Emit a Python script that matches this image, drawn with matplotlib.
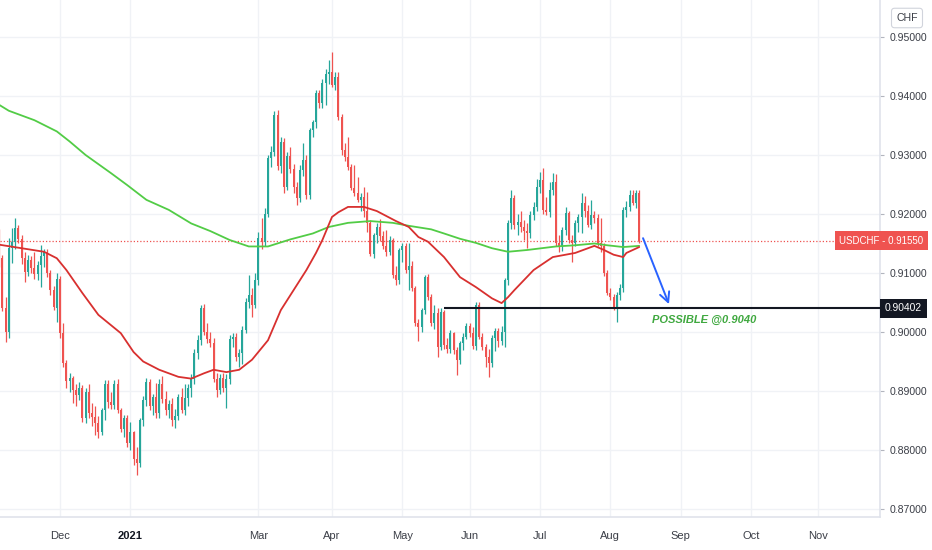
import numpy as np
import pandas as pd
import matplotlib
matplotlib.use("Agg")
import matplotlib.pyplot as plt
from matplotlib import font_manager
from matplotlib.transforms import blended_transform_factory
from matplotlib.ticker import FuncFormatter

# ---------------- data ----------------
symbol = "USDCHF"
currency = "CHF"
last_price = 0.91550
target_level = 0.90402
target_text = "POSSIBLE @0.9040"
target_start_date = "2021-05-20"
holidays = ["2020-12-25", "2021-01-01"]
first_day = "2020-11-04"
axis_end_day = "2021-11-30"

open_ = [
    # Nov 2020
    .9150, .9125, .9040, .9000, .9142, .9152, .9176, .9158, .9125, .9102, .9122, .9108, .9098, .9114, .9128, .9135, .9100, .9072, .9040,
    # Dec
    .9090, .8998, .8948, .8917, .8922, .8902, .8893, .8905, .8854, .8899, .8862, .8856, .8845, .8830, .8868, .8912, .8882, .8877, .8912, .8868, .8836, .8854,
    # Jan 2021
    .8812, .8830, .8785, .8778, .8851, .8885, .8915, .8875, .8890, .8862, .8912, .8886, .8868, .8878, .8851, .8858, .8890, .8868, .8888, .8905,
    # Feb
    .8920, .8965, .8986, .9040, .9000, .8988, .8982, .8920, .8902, .8922, .8905, .8920, .8988, .8992, .8958, .8965, .9003, .9050, .9063, .9045,
    # Mar
    .9088, .9160, .9152, .9200, .9295, .9305, .9368, .9282, .9322, .9246, .9298, .9277, .9246, .9227, .9275, .9292, .9232, .9342, .9356, .9405, .9388, .9422, .9438,
    # Apr
    .9440, .9419, .9433, .9365, .9308, .9297, .9280, .9244, .9235, .9224, .9229, .9205, .9185, .9133, .9164, .9178, .9162, .9145, .9136, .9156, .9097, .9088,
    # May
    .9139, .9145, .9105, .9112, .9074, .9015, .9009, .9037, .9094, .9060, .9015, .9032, .8975, .9034, .8978, .8972, .8998, .8969, .8953, .8981, .8992,
    # Jun
    .9010, .8998, .8976, .9046, .8992, .8975, .8958, .8947, .8990, .9001, .8984, .9000, .9088, .9184, .9227, .9181, .9187, .9178, .9172, .9168, .9198, .9212,
    # Jul
    .9246, .9258, .9207, .9204, .9240, .9255, .9150, .9145, .9173, .9201, .9156, .9150, .9184, .9195, .9218, .9205, .9181, .9198, .9193, .9150, .9145, .9100,
    # Aug
    .9066, .9060, .9042, .9062, .9075, .9207, .9212, .9232, .9218, .9235,
]
high = [
    .9175, .9130, .9060, .9160, .9176, .9193, .9182, .9165, .9135, .9130, .9128, .9135, .9120, .9147, .9140, .9140, .9105, .9078, .9100,
    .9095, .9015, .8952, .8930, .8925, .8912, .8915, .8910, .8905, .8912, .8880, .8875, .8858, .8872, .8919, .8918, .8898, .8918, .8920, .8872, .8860, .8860,
    .8848, .8832, .8805, .8855, .8892, .8922, .8920, .8895, .8913, .8920, .8925, .8900, .8885, .8888, .8870, .8895, .8905, .8912, .8912, .8928,
    .8972, .8995, .9045, .9048, .9015, .9000, .8990, .8930, .8928, .8930, .8928, .8995, .8998, .8998, .8972, .9010, .9058, .9097, .9075, .9100,
    .9170, .9193, .9210, .9300, .9315, .9375, .9376, .9330, .9328, .9305, .9314, .9285, .9255, .9283, .9320, .9300, .9345, .9360, .9410, .9410, .9428, .9445, .9461,
    .9475, .9440, .9440, .9370, .9320, .9331, .9285, .9283, .9263, .9235, .9246, .9238, .9190, .9168, .9185, .9192, .9172, .9173, .9162, .9160, .9112, .9142,
    .9150, .9151, .9150, .9120, .9078, .9022, .9040, .9096, .9098, .9065, .9045, .9040, .9040, .9038, .8990, .9003, .9000, .8975, .8985, .8998, .9015,
    .9015, .9009, .9051, .9050, .8998, .8980, .8972, .8995, .9006, .9006, .9010, .9091, .9190, .9241, .9232, .9200, .9205, .9190, .9185, .9205, .9220, .9260,
    .9272, .9278, .9228, .9255, .9269, .9268, .9165, .9178, .9212, .9205, .9165, .9190, .9200, .9235, .9230, .9215, .9224, .9205, .9200, .9193, .9150, .9105,
    .9075, .9065, .9068, .9082, .9212, .9222, .9241, .9241, .9240, .9240,
]
low = [
    .9110, .9035, .8983, .8990, .9117, .9140, .9150, .9115, .9085, .9095, .9100, .9090, .9088, .9077, .9110, .9094, .9063, .9038, .9017,
    .8990, .8940, .8905, .8898, .8880, .8875, .8885, .8848, .8845, .8855, .8840, .8825, .8820, .8825, .8850, .8872, .8870, .8870, .8862, .8830, .8822, .8805,
    .8800, .8775, .8758, .8772, .8840, .8875, .8868, .8860, .8855, .8855, .8880, .8860, .8855, .8840, .8838, .8850, .8862, .8860, .8875, .8890,
    .8912, .8955, .8978, .8995, .8982, .8975, .8915, .8890, .8895, .8898, .8871, .8912, .8975, .8950, .8940, .8945, .8998, .9040, .9026, .9040,
    .9080, .9140, .9145, .9195, .9280, .9298, .9275, .9270, .9235, .9240, .9270, .9235, .9215, .9220, .9265, .9225, .9225, .9330, .9345, .9380, .9380, .9385, .9420,
    .9415, .9410, .9360, .9300, .9290, .9275, .9240, .9230, .9220, .9205, .9195, .9170, .9128, .9125, .9150, .9155, .9140, .9128, .9130, .9092, .9080, .9082,
    .9118, .9100, .9071, .9070, .9010, .8984, .9000, .9030, .9055, .9010, .9005, .8958, .8970, .8972, .8965, .8965, .8962, .8927, .8945, .8970, .8988,
    .8992, .8972, .8970, .8988, .8970, .8941, .8924, .8940, .8968, .8975, .8978, .8975, .9080, .9175, .9175, .9165, .9170, .9156, .9142, .9160, .9190, .9205,
    .9235, .9200, .9198, .9195, .9232, .9145, .9135, .9138, .9165, .9150, .9119, .9145, .9170, .9168, .9195, .9178, .9175, .9185, .9145, .9135, .9095, .9062,
    .9054, .9037, .9017, .9055, .9068, .9195, .9205, .9215, .9210, .9150,
]
close = [
    .9125, .9040, .9000, .9142, .9152, .9176, .9158, .9125, .9102, .9122, .9108, .9098, .9114, .9128, .9135, .9100, .9072, .9042, .9090,
    .8998, .8948, .8917, .8922, .8902, .8893, .8905, .8854, .8899, .8862, .8856, .8845, .8830, .8868, .8912, .8882, .8877, .8912, .8868, .8836, .8854, .8812,
    .8830, .8785, .8778, .8851, .8885, .8915, .8875, .8890, .8862, .8912, .8886, .8868, .8878, .8851, .8858, .8890, .8868, .8888, .8905, .8920,
    .8965, .8986, .9040, .9000, .8988, .8982, .8920, .8902, .8922, .8905, .8920, .8988, .8992, .8958, .8965, .9003, .9050, .9063, .9045, .9088,
    .9160, .9152, .9200, .9295, .9305, .9368, .9282, .9322, .9246, .9298, .9277, .9246, .9227, .9275, .9292, .9232, .9342, .9356, .9405, .9388, .9422, .9438, .9440,
    .9419, .9433, .9365, .9308, .9297, .9280, .9244, .9235, .9224, .9229, .9205, .9185, .9133, .9164, .9178, .9162, .9145, .9136, .9156, .9097, .9088, .9139,
    .9145, .9105, .9112, .9074, .9015, .9009, .9037, .9094, .9060, .9015, .9032, .8975, .9034, .8978, .8972, .8998, .8969, .8953, .8981, .8992, .9010,
    .8998, .8976, .9046, .8992, .8975, .8958, .8947, .8990, .9001, .8984, .9000, .9088, .9184, .9227, .9181, .9187, .9178, .9172, .9168, .9198, .9212, .9246,
    .9258, .9207, .9204, .9240, .9255, .9150, .9145, .9173, .9201, .9156, .9150, .9184, .9195, .9218, .9205, .9181, .9198, .9193, .9150, .9145, .9100, .9066,
    .9060, .9042, .9062, .9075, .9207, .9212, .9232, .9218, .9235, .9155,
]

ma_fast_dates = ["2020-11-04", "2020-11-13", "2020-11-24", "2020-11-30", "2020-12-03", "2020-12-10",
                 "2020-12-17", "2020-12-29", "2021-01-05", "2021-01-08", "2021-01-15", "2021-01-25",
                 "2021-01-29", "2021-02-04", "2021-02-09", "2021-02-15", "2021-02-19", "2021-02-25",
                 "2021-03-04", "2021-03-10", "2021-03-12", "2021-03-18", "2021-03-22", "2021-03-25",
                 "2021-03-29", "2021-04-01", "2021-04-05", "2021-04-08", "2021-04-15", "2021-04-21",
                 "2021-04-29", "2021-05-05", "2021-05-10", "2021-05-13", "2021-05-20", "2021-05-27",
                 "2021-06-03", "2021-06-10", "2021-06-15", "2021-06-17", "2021-06-21", "2021-06-29",
                 "2021-07-07", "2021-07-16", "2021-07-26", "2021-07-29", "2021-08-03", "2021-08-06",
                 "2021-08-09", "2021-08-13"]
ma_fast_vals = [.9148, .9142, .9136, .9125, .9105, .9066,
                .9029, .8998, .8966, .8950, .8936, .8924,
                .8921, .8930, .8936, .8932, .8936, .8953,
                .8986, .9037, .9054, .9088, .9105, .9134,
                .9156, .9195, .9203, .9212, .9212, .9205,
                .9188, .9178, .9161, .9153, .9127, .9093,
                .9076, .9057, .9049, .9059, .9071, .9105,
                .9127, .9134, .9146, .9139, .9131, .9127,
                .9134, .9144]
ma_slow_dates = ["2020-11-04", "2020-11-09", "2020-11-19", "2020-11-30", "2020-12-04", "2020-12-11",
                 "2020-12-23", "2020-12-31", "2021-01-11", "2021-01-20", "2021-01-29", "2021-02-08",
                 "2021-02-16", "2021-02-24", "2021-03-04", "2021-03-15", "2021-03-24", "2021-03-31",
                 "2021-04-08", "2021-04-19", "2021-04-28", "2021-05-05", "2021-05-14", "2021-05-20",
                 "2021-05-27", "2021-06-03", "2021-06-10", "2021-06-17", "2021-06-25", "2021-07-08",
                 "2021-07-16", "2021-07-26", "2021-07-30", "2021-08-06", "2021-08-13"]
ma_slow_vals = [.9385, .9375, .9359, .9340, .9323, .9300,
                .9269, .9249, .9224, .9207, .9184, .9171,
                .9156, .9145, .9145, .9157, .9167, .9178,
                .9185, .9188, .9185, .9180, .9174, .9167,
                .9158, .9151, .9142, .9136, .9139, .9145,
                .9147, .9150, .9147, .9144, .9146]

price_ticks = [0.87, 0.88, 0.89, 0.90, 0.91, 0.92, 0.93, 0.94, 0.95]

# ---------------- styling ----------------
names = {f.name for f in font_manager.fontManager.ttflist}
narrow = "Liberation Sans Narrow" if "Liberation Sans Narrow" in names else "Liberation Sans"
plt.rcParams["font.family"] = [narrow, "DejaVu Sans"]

UP = "#26a69a"
DOWN = "#ef5350"
GRID = "#f0f2f6"
AXIS = "#e0e3eb"
TXT = "#3b3e47"

# calendar of bars (weekdays without the two holidays)
cal = pd.bdate_range(first_day, axis_end_day)
cal = cal[~cal.isin(pd.to_datetime(holidays))]
pos_of = {d: i for i, d in enumerate(cal)}
n = len(close)
pos = np.arange(n)

o = np.array(open_); h = np.array(high); l = np.array(low); c = np.array(close)
up = c >= o
cols = np.where(up, UP, DOWN)

fig = plt.figure(figsize=(9.32, 5.5), dpi=100)
ax = fig.add_axes([0, 33 / 550, 880 / 932, 517 / 550])

# y range: 0.95 at 37px from top, 0.01 per 59px
ax.set_ylim(0.95 - 480 / 5900, 0.95 + 37 / 5900)
ax.set_xlim(0.25, 275.25)

# month ticks
month_pos, month_lab = [], []
seen = set()
for i, d in enumerate(cal):
    key = (d.year, d.month)
    if key in seen:
        continue
    seen.add(key)
    if i == 0 or d.month == 2:
        continue
    month_pos.append(i)
    month_lab.append(str(d.year) if d.month == 1 else d.strftime("%b"))

for mp in month_pos:
    ax.axvline(mp, color=GRID, lw=1, zorder=0)
for pt in price_ticks:
    ax.axhline(pt, color=GRID, lw=1, zorder=0)

# candles
ax.vlines(pos, l, h, colors=cols, lw=0.9, zorder=2)
body_h = np.maximum(np.abs(c - o), 0.00008)
ax.bar(pos, body_h, bottom=np.minimum(o, c), width=0.62, color=cols, linewidth=0, zorder=3)

# moving averages
fx = [pos_of[pd.Timestamp(d)] for d in ma_fast_dates]
sx = [pos_of[pd.Timestamp(d)] for d in ma_slow_dates]
ax.plot(sx, ma_slow_vals, color="#52cc46", lw=1.3, zorder=4, solid_capstyle="round")
ax.plot(fx, ma_fast_vals, color="#d8302f", lw=1.3, zorder=5, solid_capstyle="round")

# last price dotted line
ax.axhline(last_price, color=DOWN, lw=0.9, ls=(0, (1, 1.6)), zorder=1)

# target horizontal line
t0 = pos_of[pd.Timestamp(target_start_date)]
ax.hlines(target_level, t0, ax.get_xlim()[1], color="#131722", lw=1.5, zorder=6)

# arrow towards target
last = pos[-1]
ax.annotate("", xy=(last + 9.3, target_level + 0.0007), xytext=(last + 1.2, last_price + 0.0004),
            arrowprops=dict(arrowstyle="->,head_length=0.7,head_width=0.35", color="#2962ff", lw=1.4,
                            shrinkA=0, shrinkB=0), zorder=7)
ax.text(last + 4, target_level - 0.0020, target_text, color="#3fa83f", fontsize=8,
        fontweight="bold", fontstyle="italic", ha="left", va="center", zorder=7)

# axes styling
for s in ["top", "left"]:
    ax.spines[s].set_visible(False)
for s in ["right", "bottom"]:
    ax.spines[s].set_color(AXIS)
    ax.spines[s].set_linewidth(1.2)
ax.yaxis.tick_right()
ax.set_yticks(price_ticks)
ax.yaxis.set_major_formatter(FuncFormatter(lambda v, p: f"{v:.5f}"))
ax.tick_params(axis="y", length=3, width=0.8, color="#b2b5be", pad=4, labelsize=7.6, labelcolor=TXT)
ax.set_xticks(month_pos)
ax.set_xticklabels(month_lab)
ax.tick_params(axis="x", length=0, pad=10, labelsize=8, labelcolor=TXT)
for lab in ax.get_xticklabels():
    if lab.get_text().isdigit():
        lab.set_color("#131722")
        lab.set_fontweight("bold")

# price labels on the scale
bt = blended_transform_factory(fig.transFigure, ax.transData)
ax.text(839 / 932, last_price, f"{symbol} - {last_price:.5f}", transform=bt, ha="left", va="center",
        color="white", fontsize=7.0, zorder=10, clip_on=False,
        bbox=dict(boxstyle="square,pad=0.45", fc=DOWN, ec="none"))
ax.text(885 / 932, target_level, f"{target_level:.5f}", transform=bt, ha="left", va="center",
        color="white", fontsize=7.4, zorder=10, clip_on=False,
        bbox=dict(boxstyle="square,pad=0.45", fc="#131722", ec="none"))
fig.text(907 / 932, 1 - 18 / 550, currency, ha="center", va="center", fontsize=7.6, color=TXT,
         bbox=dict(boxstyle="round,pad=0.45,rounding_size=0.3", fc="white", ec="#d1d4dc", lw=0.8))

fig.savefig("out.png", dpi=100, facecolor="white")
